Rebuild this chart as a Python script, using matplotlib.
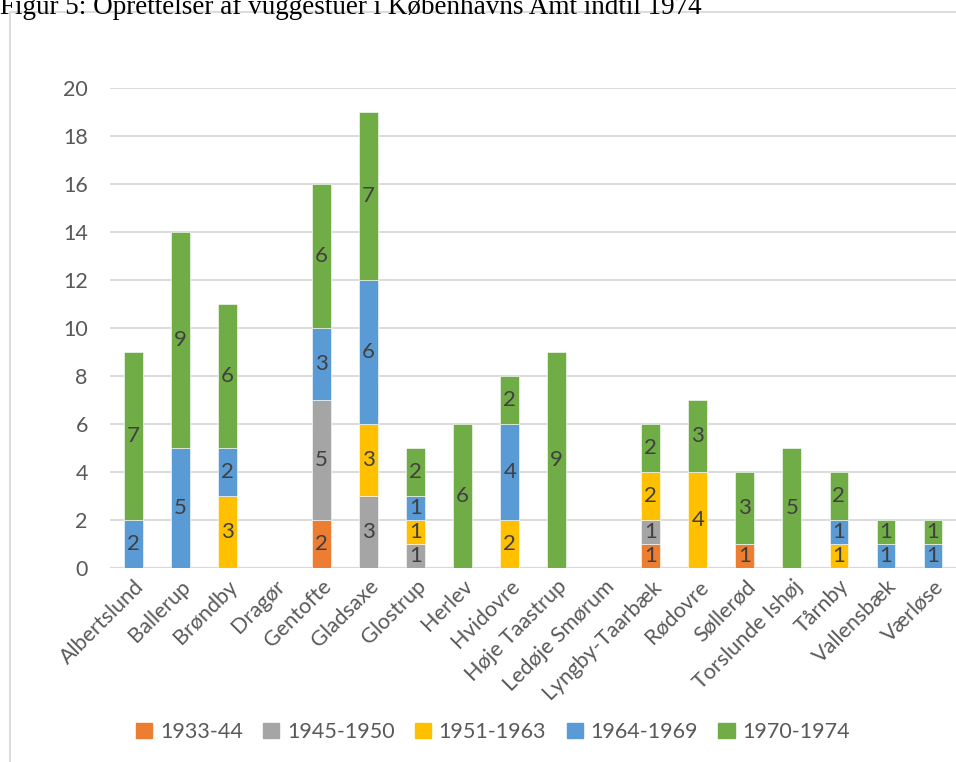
import numpy as np
import matplotlib.pyplot as plt
from matplotlib.patches import Rectangle
from matplotlib.lines import Line2D

# ===== data =====
kommuner = ["Albertslund", "Ballerup", "Brøndby", "Dragør", "Gentofte", "Gladsaxe",
            "Glostrup", "Herlev", "Hvidovre", "Høje Taastrup", "Ledøje Smørum",
            "Lyngby-Taarbæk", "Rødovre", "Søllerød", "Torslunde Ishøj", "Tårnby",
            "Vallensbæk", "Værløse"]
perioder = ["1933-44", "1945-1950", "1951-1963", "1964-1969", "1970-1974"]
p1933_44 = [0, 0, 0, 0, 2, 0, 0, 0, 0, 0, 0, 1, 0, 1, 0, 0, 0, 0]
p1945_50 = [0, 0, 0, 0, 5, 3, 1, 0, 0, 0, 0, 1, 0, 0, 0, 0, 0, 0]
p1951_63 = [0, 0, 3, 0, 0, 3, 1, 0, 2, 0, 0, 2, 4, 0, 0, 1, 0, 0]
p1964_69 = [2, 5, 2, 0, 3, 6, 1, 0, 4, 0, 0, 0, 0, 0, 0, 1, 1, 1]
p1970_74 = [7, 9, 6, 0, 6, 7, 2, 6, 2, 9, 0, 2, 3, 3, 5, 2, 1, 1]
farver = ["#ED7D31", "#A5A5A5", "#FFC000", "#5B9BD5", "#70AD47"]

TXT = "#595959"
GRID = "#D9D9D9"
FONT = ["Lato", "DejaVu Sans"]

fig = plt.figure(figsize=(9.56, 7.62), dpi=100)

# titel (delvist afskaaret i toppen, som i originalen) og ramme
fig.text(0.0, 1 - 14/762, "Figur 5: Oprettelser af vuggestuer i Københavns Amt indtil 1974",
         family="Liberation Serif", fontsize=19.5, color="black", va="baseline", ha="left")
fig.add_artist(Line2D([10/956, 1.0], [1 - 12/762, 1 - 12/762], color=GRID, lw=1.3,
                      transform=fig.transFigure))
fig.add_artist(Line2D([10/956, 10/956], [0, 1 - 12/762], color=GRID, lw=1.3,
                      transform=fig.transFigure))

ax = fig.add_axes([110/956, 1 - 568/762, (956.5 - 110)/956, 480/762])
x = np.arange(len(kommuner))
bund = np.zeros(len(kommuner))
for navn, vals, c in zip(perioder, [p1933_44, p1945_50, p1951_63, p1964_69, p1970_74], farver):
    vals = np.array(vals, dtype=float)
    ax.bar(x, vals, 0.4, bottom=bund, color=c, label=navn,
           edgecolor="white", linewidth=0.4, zorder=3)
    for xi, b, v in zip(x, bund, vals):
        if v > 0:
            ax.text(xi, b + v / 2, f"{int(v)}", ha="center", va="center",
                    fontsize=16, color="#404040", family=FONT, zorder=4)
    bund += vals

ax.set_xlim(-0.5, len(kommuner) - 0.5)
ax.set_ylim(0, 20)
ax.yaxis.grid(True, color=GRID, lw=1.3, zorder=0)
ax.set_axisbelow(True)
for s in ax.spines.values():
    s.set_visible(False)
ax.axhline(0, color=GRID, lw=1.6, zorder=2)
ax.tick_params(length=0)
ax.tick_params(axis="y", pad=16)
ax.set_yticks(range(0, 21, 2))
for lab in ax.get_yticklabels():
    lab.set_fontsize(15.5)
    lab.set_color(TXT)
    lab.set_family(FONT)
ax.set_xticks(x)
ax.set_xticklabels(kommuner, rotation=45, ha="right", rotation_mode="anchor",
                   fontsize=15.5, color=TXT, family=FONT)
ax.tick_params(axis="x", pad=6)

handles = [Rectangle((0, 0), 1, 1, color=c) for c in farver]
fig.legend(handles, perioder, loc="center", bbox_to_anchor=(493/956, 1 - 732/762),
           ncol=5, frameon=False, handlelength=0.75, handleheight=0.75,
           handletextpad=0.35, columnspacing=0.95,
           prop={"family": FONT, "size": 15.5}, labelcolor=TXT)

fig.savefig("out.png", dpi=100)
